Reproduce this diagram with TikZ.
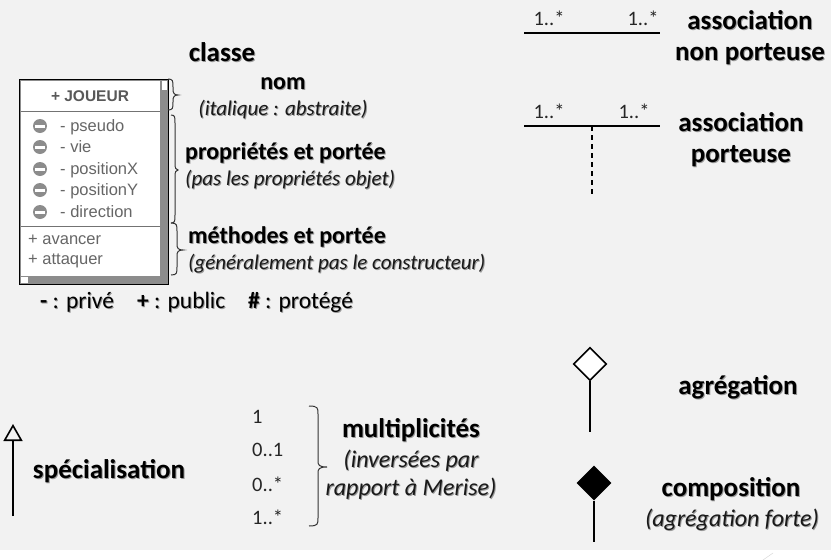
\documentclass[tikz,border=0pt]{standalone}
\usepackage{fontspec}
\setmainfont{Carlito}
\newfontfamily\umlfont{Liberation Sans}
\usetikzlibrary{shapes.geometric,arrows.meta}
\newcommand{\shad}[1]{\leavevmode\rlap{\kern1pt\raisebox{-1pt}{\textcolor{black!40}{#1}}}#1}
\tikzset{
  x=1pt,y=-1pt,
  lab/.style={font=\fontsize{27}{31}\selectfont\bfseries,align=center,inner sep=0pt,text=black},
  labs/.style={font=\fontsize{24}{28}\selectfont\bfseries,align=center,inner sep=0pt,text=black},
  sub/.style={font=\fontsize{21}{25}\selectfont\itshape,align=center,inner sep=0pt,text=black!90},
  subl/.style={font=\fontsize{24}{28}\selectfont\itshape,align=center,inner sep=0pt,text=black!90},
  mult/.style={font=\fontsize{20.5}{24}\selectfont,inner sep=0pt,text=black!85},
  bot/.style={font=\fontsize{23.5}{27}\selectfont,anchor=west,inner sep=0pt,text=black},
  attr/.style={font=\umlfont\fontsize{16.5}{19}\selectfont,anchor=base west,inner sep=0pt,text=black!60},
  cline/.style={line width=1.6pt,draw=black},
  brc/.style={line width=1pt,draw=black!80},
  minusicon/.style={circle,fill=black!45,minimum size=14pt,inner sep=0pt},
}
\newcommand{\bracepath}[6]{% x-start, spine, tip, y1, ym, y2
  \draw[brc] (#1,#4) .. controls (#2,#4) and (#2,#4+2) .. (#2,#4+8)
    -- (#2,#5-6) .. controls (#2,#5-2) and (#2+1,#5) .. (#3,#5)
    .. controls (#2+1,#5) and (#2,#5+2) .. (#2,#5+6)
    -- (#2,#6-8) .. controls (#2,#6-2) and (#2,#6) .. (#1,#6);}
\newcommand{\minusat}[2]{%
  \node[minusicon] (#1) at (40,#2) {};
  \fill[white] (35,#2-1.5) rectangle (45,#2+1.5);}
\begin{document}
\begin{tikzpicture}
\useasboundingbox (0,0) rectangle (831,560);
\fill[white] (0,0) rectangle (831,560);
\fill[black!5] (0,0) rectangle (831,550);
\draw[black!15,line width=.5pt] (763,560) -- (773,553);
% class box
\fill[black!45] (19,79) rectangle (168,284);
\fill[white] (21,81) rectangle (160,276);
\fill[white] (162,81) rectangle (167,90);
\fill[white] (21,277) rectangle (28,283);
\draw[black,line width=1pt] (19.5,79.5) rectangle (168,284);
\draw[black!55,line width=1pt] (21,111) -- (160,111) (21,226) -- (160,226);
\node[font=\umlfont\fontsize{15.5}{18}\selectfont\bfseries,inner sep=0pt,text=black!65] (nomclasse) at (90,96) {+ JOUEUR};
\minusat{m1}{126}\minusat{m2}{147}\minusat{m3}{169}\minusat{m4}{190}\minusat{m5}{212}
\node[attr] (a1) at (60,131) {- pseudo};
\node[attr] (a2) at (60,152) {- vie};
\node[attr] (a3) at (60,174) {- positionX};
\node[attr] (a4) at (60,195) {- positionY};
\node[attr] (a5) at (60,217) {- direction};
\node[attr] (o1) at (28,244) {+ avancer};
\node[attr] (o2) at (28,264) {+ attaquer};
% braces
\bracepath{168}{173}{178}{79}{95}{110}
\bracepath{171}{175}{178}{115}{170}{223}
\bracepath{171}{177}{183}{223}{250}{275}
\bracepath{309}{318}{327}{406}{467}{526}
% class labels
\node[lab] (tclasse) at (222,53) {\shad{classe}};
\node[labs] (tnom) at (283,84) {\shad{nom}};
\node[sub] (tital) at (283,110) {\shad{(italique : abstraite)}};
\node[labs,anchor=west] (tprop) at (185,153) {\shad{propriétés et portée}};
\node[sub,anchor=west] (tprop2) at (185,180) {\shad{(pas les propriétés objet)}};
\node[labs,anchor=west] (tmeth) at (188,237) {\shad{méthodes et portée}};
\node[sub,anchor=west] (tmeth2) at (188,264) {\shad{(généralement pas le constructeur)}};
\node[bot] (tpriv) at (40,303) {\shad{\textbf{-} : privé}};
\node[bot] (tpub) at (137,303) {\shad{\textbf{+} : public}};
\node[bot] (tprot) at (248,303) {\shad{\textbf{\#} : protégé}};
% association non porteuse
\coordinate (as1) at (524,33);
\coordinate (as2) at (660,33);
\draw[cline] (as1) -- (as2);
\node[mult] (m11) at (549,18) {1..*};
\node[mult] (m12) at (643,18) {1..*};
\node[lab] (tas1) at (750,38) {\shad{association}\\\shad{non porteuse}};
% association porteuse
\coordinate (bs1) at (524,126);
\coordinate (bs2) at (660,126);
\coordinate (bs3) at (592,126);
\coordinate (bs4) at (592,195);
\draw[cline] (bs1) -- (bs2);
\draw[cline,dashed,dash pattern=on 5pt off 4pt] (bs3) -- (bs4);
\node[mult] (m21) at (549,111) {1..*};
\node[mult] (m22) at (634,111) {1..*};
\node[lab] (tas2) at (741,140) {\shad{association}\\\shad{porteuse}};
% aggregation
\node[diamond,draw=black,fill=white,line width=1.6pt,minimum width=33pt,minimum height=33pt,inner sep=0pt] (agg) at (590,364) {};
\coordinate (aggb) at (590,432);
\draw[cline] (agg.south) -- (aggb);
\node[lab] (tagg) at (738,388) {\shad{agrégation}};
% composition
\node[diamond,fill=black,minimum width=35pt,minimum height=35pt,inner sep=0pt] (comp) at (594,483) {};
\coordinate (compb) at (594,542);
\draw[cline] (comp.south) -- (compb);
\node[lab] (tcomp) at (731,490) {\shad{composition}};
\node[subl] (tcomp2) at (732,520) {\shad{(agrégation forte)}};
% specialisation
\coordinate (sp1) at (13,516);
\coordinate (sp2) at (13,424);
\draw[cline,-{Triangle[open,length=17pt,width=19pt,line width=1.6pt]}] (sp1) -- (sp2);
\node[lab] (tspec) at (109,472) {\shad{spécialisation}};
% multiplicities
\node[mult,anchor=west] (mu1) at (252,417) {1};
\node[mult,anchor=west] (mu2) at (252,450) {0..1};
\node[mult,anchor=west] (mu3) at (252,484) {0..*};
\node[mult,anchor=west] (mu4) at (252,517) {1..*};
\node[lab] (tmult) at (411,431) {\shad{multiplicités}};
\node[subl] (tmult2) at (411,461) {\shad{(inversées par}};
\node[subl] (tmult3) at (411,489) {\shad{rapport à Merise)}};
\end{tikzpicture}
\end{document}
